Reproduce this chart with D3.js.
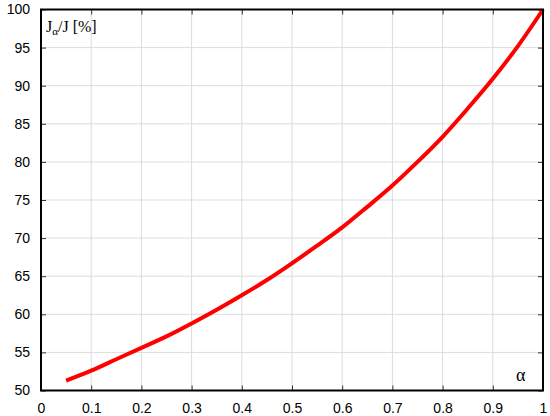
<!DOCTYPE html>
<html><head><meta charset="utf-8">
<script src="https://cdn.jsdelivr.net/npm/d3@7"></script>
<style>body{margin:0;background:#fff}svg{display:block}</style>
</head><body>
<svg id="c" width="550" height="416"></svg>
<script>
const alphaVals = [0.05, 0.1, 0.15, 0.2, 0.25, 0.3, 0.35, 0.4, 0.45, 0.5, 0.55, 0.6, 0.65, 0.7, 0.75, 0.8, 0.85, 0.9, 0.95, 1.0];
const ratioVals = [51.3, 52.6, 54.1, 55.6, 57.1, 58.8, 60.6, 62.5, 64.5, 66.7, 69.0, 71.4, 74.1, 76.9, 80.0, 83.3, 87.0, 90.9, 95.2, 100];
const xTicks = [0, 0.1, 0.2, 0.3, 0.4, 0.5, 0.6, 0.7, 0.8, 0.9, 1];
const yTicks = [50, 55, 60, 65, 70, 75, 80, 85, 90, 95, 100];
const xTickLabels = ["0", "0.1", "0.2", "0.3", "0.4", "0.5", "0.6", "0.7", "0.8", "0.9", "1"];

const svg = d3.select("#c");
const L = 41, R = 543, T = 9.5, B = 390.5;
const x = d3.scaleLinear().domain([0, 1]).range([L, R]);
const y = d3.scaleLinear().domain([50, 100]).range([B, T]);

// grid
svg.append("g").selectAll("line").data(xTicks.slice(1, -1)).join("line")
  .attr("x1", d => x(d)).attr("x2", d => x(d)).attr("y1", T).attr("y2", B)
  .attr("stroke", "#dcdcdc").attr("stroke-width", 1);
svg.append("g").selectAll("line").data(yTicks.slice(1, -1)).join("line")
  .attr("y1", d => y(d)).attr("y2", d => y(d)).attr("x1", L).attr("x2", R)
  .attr("stroke", "#dcdcdc").attr("stroke-width", 1);

// axes with inward ticks
const font = "Liberation Sans, Arial, sans-serif";
const ax = svg.append("g").attr("transform", `translate(0,${B})`)
  .call(d3.axisBottom(x).tickValues(xTicks).tickFormat((d, i) => xTickLabels[i]).tickSize(-5).tickPadding(13));
const ay = svg.append("g").attr("transform", `translate(${L},0)`)
  .call(d3.axisLeft(y).tickValues(yTicks).tickSize(-5).tickPadding(11));
const axT = svg.append("g").attr("transform", `translate(0,${T})`)
  .call(d3.axisTop(x).tickValues(xTicks).tickFormat("").tickSize(-5));
const ayR = svg.append("g").attr("transform", `translate(${R},0)`)
  .call(d3.axisRight(y).tickValues(yTicks).tickFormat("").tickSize(-5));
[ax, ay, axT, ayR].forEach(g => {
  g.select(".domain").remove();
  g.selectAll(".tick line").attr("stroke", "#333");
  g.selectAll("text").attr("font-family", font).attr("font-size", 14).attr("fill", "#000");
});

// curve
svg.append("path")
  .datum(alphaVals.map((a, i) => [a, ratioVals[i]]))
  .attr("d", d3.line().x(d => x(d[0])).y(d => y(d[1])).curve(d3.curveCatmullRom))
  .attr("fill", "none").attr("stroke", "#ff0000").attr("stroke-width", 4);

// frame
svg.append("rect").attr("x", L).attr("y", T).attr("width", R - L).attr("height", B - T)
  .attr("fill", "none").attr("stroke", "#000").attr("stroke-width", 2);

// labels
const lab = svg.append("text").attr("x", 46).attr("y", 32)
  .attr("font-family", "Liberation Serif, Times New Roman, serif").attr("font-size", 16).attr("fill", "#000");
lab.append("tspan").text("J");
lab.append("tspan").attr("font-size", 11).attr("dy", 3).text("α");
lab.append("tspan").attr("dy", -3).text("/J [%]");
svg.append("text").attr("x", 516).attr("y", 381)
  .attr("font-family", "Liberation Serif, Times New Roman, serif").attr("font-size", 18).attr("fill", "#000").text("α");
</script>
</body></html>
